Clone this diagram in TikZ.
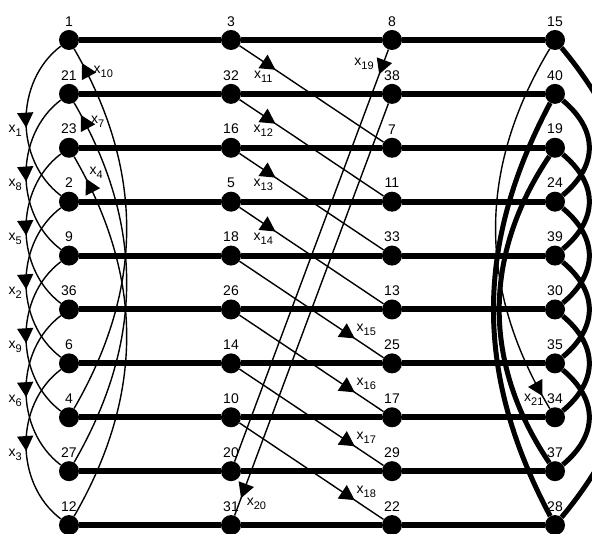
\documentclass[tikz,border=0pt]{standalone}
\usepackage{fontspec}
\setmainfont{Liberation Sans}
\usetikzlibrary{arrows.meta,decorations.markings}

\newcommand{\xsub}[1]{x\raisebox{-4pt}{\fontsize{11}{12}\selectfont#1}}

\begin{document}
\begin{tikzpicture}[
        x=1pt, y=1pt,
        every node/.style={font=\fontsize{14}{16}\selectfont},
        vtx/.style={circle, fill=black, inner sep=0pt, minimum size=20pt},
        track/.style={draw=black, line width=6pt},
        bond/.style={draw=black, line width=5pt},
        flow/.style={draw=black, line width=1.4pt},
        xlab/.style={inner sep=0pt},
        tipmark/.style 2 args={postaction={decorate, decoration={markings,
                mark=at position #1 with {\arrow{Triangle[length=15pt,width=16pt]}
                    \coordinate (#2) at (-7.5pt,0);}}}}
    ]

    \useasboundingbox (0,0) rectangle (592,534);
    \clip (0,0) rectangle (592,534);

    % =============== vertices, one column at a time ===============
    \foreach \v [count=\r] in {1,21,23,2,9,36,6,4,27,12}
    \node[vtx, label=above:\v] (v\v) at (69, {494-53.9*(\r-1)}) {};
    \foreach \v [count=\r] in {3,32,16,5,18,26,14,10,20,31}
    \node[vtx, label=above:\v] (v\v) at (231, {494-53.9*(\r-1)}) {};
    \foreach \v [count=\r] in {8,38,7,11,33,13,25,17,29,22}
    \node[vtx, label=above:\v] (v\v) at (392, {494-53.9*(\r-1)}) {};
    \foreach \v [count=\r] in {15,40,19,24,39,30,35,34,37,28}
    \node[vtx, label=above:\v] (v\v) at (555, {494-53.9*(\r-1)}) {};

    % =============== horizontal rows ===============
    \draw[track] (v1) -- (v3) -- (v8) -- (v15);
    \draw[track] (v21) -- (v32) -- (v38) -- (v40);
    \draw[track] (v23) -- (v16) -- (v7) -- (v19);
    \draw[track] (v2) -- (v5) -- (v11) -- (v24);
    \draw[track] (v9) -- (v18) -- (v33) -- (v39);
    \draw[track] (v36) -- (v26) -- (v13) -- (v30);
    \draw[track] (v6) -- (v14) -- (v25) -- (v35);
    \draw[track] (v4) -- (v10) -- (v17) -- (v34);
    \draw[track] (v27) -- (v20) -- (v29) -- (v37);
    \draw[track] (v12) -- (v31) -- (v22) -- (v28);

    % =============== left column: x1 ... x10 ===============
    \draw[flow, tipmark={0.54}{t1}] (v1) to[bend right=53] (v2);
    \draw[flow, tipmark={0.54}{t2}] (v2) to[bend right=53] (v6);
    \draw[flow, tipmark={0.54}{t3}] (v6) to[bend right=53] (v12);
    \draw[flow, tipmark={0.934}{t4}] (v12) to[bend right=30] (v23);
    \draw[flow, tipmark={0.54}{t5}] (v23) to[bend right=53] (v36);
    \draw[flow, tipmark={0.54}{t6}] (v36) to[bend right=53] (v27);
    \draw[flow, tipmark={0.963}{t7}] (v27) to[bend right=30] (v21);
    \draw[flow, tipmark={0.54}{t8}] (v21) to[bend right=53] (v9);
    \draw[flow, tipmark={0.54}{t9}] (v9) to[bend right=53] (v4);
    \draw[flow, tipmark={0.957}{t10}] (v4) to[bend right=30] (v1);

    \foreach \k in {1,2,3,5,6,8,9}
    \node[xlab] (l\k) at ([shift={(-10.5,-11)}]t\k) {\xsub{\k}};
    \node[xlab, anchor=west] (l4) at ([shift={(0,12)}]t4) {\xsub{4}};
    \node[xlab, anchor=west] (l7) at ([shift={(6.5,0)}]t7) {\xsub{7}};
    \node[xlab, anchor=west] (l10) at ([shift={(8,-2.5)}]t10) {\xsub{10}};

    % =============== middle: x11 ... x20 ===============
    \draw[flow, tipmark={0.25}{t11}] (v3) -- (v7);
    \draw[flow, tipmark={0.25}{t12}] (v32) -- (v11);
    \draw[flow, tipmark={0.25}{t13}] (v16) -- (v33);
    \draw[flow, tipmark={0.25}{t14}] (v5) -- (v13);
    \draw[flow, tipmark={0.80}{t15}] (v18) -- (v25);
    \draw[flow, tipmark={0.80}{t16}] (v26) -- (v17);
    \draw[flow, tipmark={0.80}{t17}] (v14) -- (v29);
    \draw[flow, tipmark={0.80}{t18}] (v10) -- (v22);
    \draw[flow, tipmark={0.06}{t19}] (v8) -- (v20);
    \draw[flow, tipmark={0.958}{t20}] (v38) -- (v31);

    \foreach \k in {11,12,13,14}
    \node[xlab] (l\k) at ([shift={(-6,-11.5)}]t\k) {\xsub{\k}};
    \foreach \k in {15,16,17,18}
    \node[xlab, anchor=west] (l\k) at ([shift={(8,4.5)}]t\k) {\xsub{\k}};
    \node[xlab, anchor=east] (l19) at ([shift={(-8,3)}]t19) {\xsub{19}};
    \node[xlab, anchor=west] (l20) at ([shift={(3,-13)}]t20) {\xsub{20}};

    % =============== right column ===============
    \draw[bond] (v40) to[bend right=28] (v28);
    \draw[bond] (v19) to[bend right=34] (v37);
    \draw[bond] (v15) to[bend left=40] (v28);
    \draw[bond] (v40) to[bend left=50, looseness=1.25] (v24);
    \draw[bond] (v19) to[bend left=50, looseness=1.25] (v39);
    \draw[bond] (v24) to[bend left=50, looseness=1.25] (v30);
    \draw[bond] (v39) to[bend left=50, looseness=1.25] (v35);
    \draw[bond] (v30) to[bend left=50, looseness=1.25] (v34);
    \draw[bond] (v35) to[bend left=50, looseness=1.25] (v37);

    \draw[flow, tipmark={0.962}{t21}] (v15) to[bend right=31] (v34);
    \node[xlab] (l21) at ([shift={(-5,-10)}]t21) {\xsub{21}};

\end{tikzpicture}
\end{document}
